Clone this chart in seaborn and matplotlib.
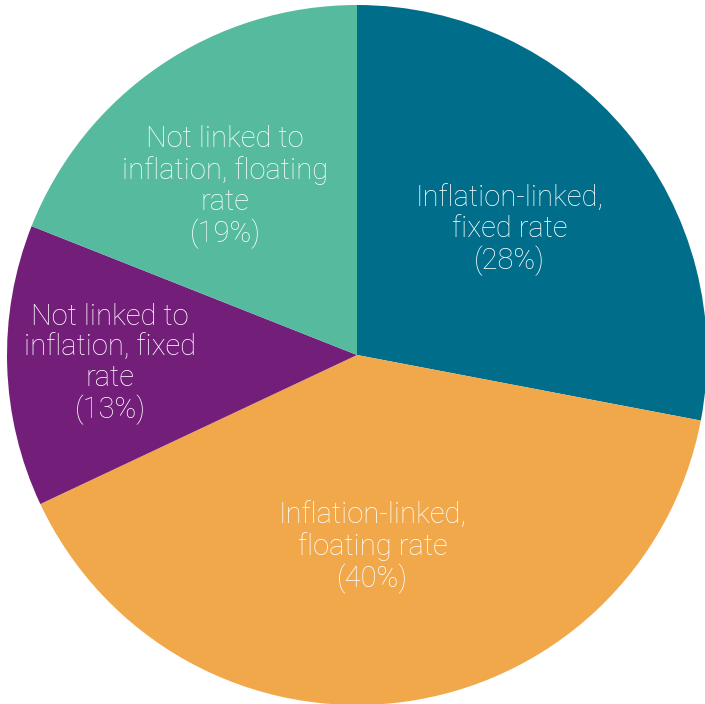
import matplotlib
matplotlib.use("Agg")
import matplotlib.pyplot as plt
import numpy as np
import seaborn as sns

# Share of debt by indexation and rate type (%)
categories = [
    "Inflation-linked,\nfixed rate",
    "Inflation-linked,\nfloating rate",
    "Not linked to\ninflation, fixed\nrate",
    "Not linked to\ninflation, floating\nrate",
]
shares = [28, 40, 13, 19]
colors = ["#006E8A", "#F0A84A", "#731F7A", "#55BA9E"]
# label placement: radial distance (fraction of radius) and angular nudge (deg)
label_dist = [0.564, 0.553, 0.706, 0.61]
label_turn = [-0.35, -2.5, 0.3, 3.9]

sns.set_theme(style="white")
plt.rcParams["font.family"] = ["Roboto", "DejaVu Sans"]

fig = plt.figure(figsize=(7.05, 7.04), dpi=100)
ax = fig.add_axes([0, 0, 1, 1])
palette = sns.color_palette(colors)

wedges, _ = ax.pie(
    shares,
    colors=palette,
    startangle=90,
    counterclock=False,
    radius=1.0,
    wedgeprops=dict(linewidth=0),
)

for w, cat, val, d, t in zip(wedges, categories, shares, label_dist, label_turn):
    mid = np.deg2rad((w.theta1 + w.theta2) / 2 + t)
    ax.text(d * np.cos(mid), d * np.sin(mid), f"{cat}\n({val}%)",
            ha="center", va="center", color="white", fontsize=21,
            fontweight="light", linespacing=1.12)

ax.set_xlim(-357 / 350, 348 / 350)
ax.set_ylim(-349 / 350, 355 / 350)
ax.set_aspect("equal")
ax.axis("off")

fig.savefig("out.png", dpi=100, facecolor="white")
